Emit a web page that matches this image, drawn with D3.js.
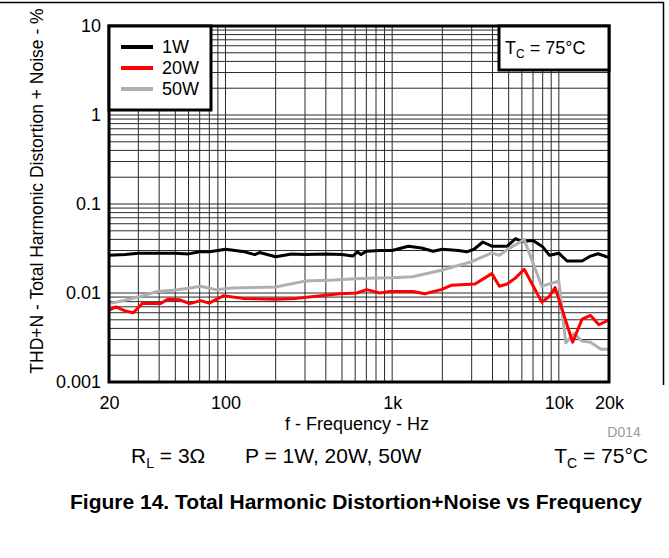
<!DOCTYPE html>
<html>
<head>
<meta charset="utf-8">
<script src="https://cdn.jsdelivr.net/npm/d3@7"></script>
<style>
  body { margin: 0; background: #fff; }
  svg { display: block; font-family: "Liberation Sans", Arial, sans-serif; }
</style>
</head>
<body>
<div id="chart"></div>
<script>
// ---- data ----
const freq1W = [20, 25, 30, 40, 50, 60, 70, 80, 90, 100, 130, 150, 160, 200, 250, 300, 400, 500, 580, 620, 650, 700, 850, 1000,
	1250, 1500, 1760, 2000, 2500, 2800, 3100, 3500, 3960, 4500, 4900, 5500, 5970, 7000, 8000, 8800, 10000, 11200, 13800, 15500, 17200, 20000];
const thd1W = [0.0265, 0.027, 0.028, 0.028, 0.028, 0.0275, 0.029, 0.029, 0.030, 0.031, 0.029, 0.027, 0.0285, 0.0255, 0.0275, 0.027, 0.0275, 0.027, 0.026, 0.029, 0.027, 0.0295, 0.030, 0.030,
	0.0335, 0.032, 0.0295, 0.031, 0.030, 0.029, 0.031, 0.0374, 0.0336, 0.0336, 0.0336, 0.0408, 0.038, 0.0388, 0.033, 0.0265, 0.028, 0.0229, 0.0229, 0.026, 0.0276, 0.025];

const freq20W = [20, 22, 25, 28, 31.6, 36, 40.7, 45, 53, 61, 71, 79.6, 97, 127, 198, 267, 350, 485, 613, 703, 842, 970,
	1330, 1570, 1970, 2260, 3140, 3960, 4400, 4900, 5500, 6200, 7900, 8700, 9500, 12100, 13800, 15500, 17400, 20000];
const thd20W = [0.0064, 0.0070, 0.0063, 0.0060, 0.0076, 0.0076, 0.0076, 0.0085, 0.0084, 0.0076, 0.0082, 0.0077, 0.0093, 0.0087, 0.0085, 0.0087, 0.0092, 0.0098, 0.0100, 0.0109, 0.0100, 0.0104,
	0.0104, 0.0098, 0.0109, 0.0122, 0.0126, 0.0165, 0.0119, 0.0126, 0.0148, 0.0185, 0.0079, 0.0090, 0.0115, 0.0028, 0.0051, 0.0056, 0.0044, 0.0050];

const freq50W = [20, 25, 30, 39, 50, 60, 71, 88, 110, 150, 200, 300, 450, 600, 800, 1000, 1330, 1970, 2960, 3960, 4400, 5000, 6200,
	7900, 10000, 11000, 12300, 13800, 15500, 17900, 20000];
const thd50W = [0.0076, 0.0083, 0.009, 0.0104, 0.0108, 0.0113, 0.0119, 0.0109, 0.0114, 0.0115, 0.0117, 0.0136, 0.014, 0.0145, 0.0147, 0.0148, 0.0152, 0.018, 0.0223, 0.0282, 0.0265, 0.0315, 0.0398,
	0.0119, 0.0136, 0.00275, 0.0035, 0.00288, 0.0028, 0.00233, 0.00233];

const seriesNames = ["1W", "20W", "50W"];
const seriesColors = ["#000000", "#ff0000", "#b0b0b0"];

const xTickValues = [20, 100, 1000, 10000, 20000];
const xTickLabels = ["20", "100", "1k", "10k", "20k"];
const yTickValues = [0.001, 0.01, 0.1, 1, 10];
const yTickLabels = ["0.001", "0.01", "0.1", "1", "10"];

// ---- layout ----
const W = 669, H = 558;
const margin = {top: 26, right: 60, bottom: 176, left: 109};
const width = W - margin.left - margin.right;
const height = H - margin.top - margin.bottom;

const svg = d3.select("#chart").append("svg")
	.attr("width", W)
	.attr("height", H);

// outer frame (top and right edge of the datasheet box)
svg.append("path")
	.attr("d", "M0,2.5 H663.5 V" + 385)
	.attr("fill", "none")
	.attr("stroke", "#000")
	.attr("stroke-width", 1.5);

const g = svg.append("g")
	.attr("transform", "translate(" + margin.left + "," + margin.top + ")");

const x = d3.scaleLog().domain([20, 20000]).range([0, width]);
const y = d3.scaleLog().domain([0.001, 10]).range([height, 0]);

// grid lines
let xGrid = [];
[10, 100, 1000, 10000].forEach(function(dec) {
	for (let k = 1; k <= 9; k++) {
		let v = dec * k;
		if (v > 20 && v < 20000) xGrid.push(v);
	}
});
let yGrid = [];
[0.001, 0.01, 0.1, 1].forEach(function(dec) {
	for (let k = 1; k <= 9; k++) {
		let v = dec * k;
		if (v > 0.001) yGrid.push(v);
	}
});

g.selectAll(".xgrid")
	.data(xGrid)
	.enter().append("line")
	.attr("class", "xgrid")
	.attr("x1", d => x(d)).attr("x2", d => x(d))
	.attr("y1", 0).attr("y2", height)
	.attr("stroke", "#2a2a2a")
	.attr("stroke-width", 1);

g.selectAll(".ygrid")
	.data(yGrid)
	.enter().append("line")
	.attr("class", "ygrid")
	.attr("x1", 0).attr("x2", width)
	.attr("y1", d => y(d)).attr("y2", d => y(d))
	.attr("stroke", "#2a2a2a")
	.attr("stroke-width", 1);

// curves
const line = d3.line()
	.x(d => x(d[0]))
	.y(d => y(d[1]));

const seriesData = [
	d3.zip(freq1W, thd1W),
	d3.zip(freq20W, thd20W),
	d3.zip(freq50W, thd50W)
];

// draw 1W first, then 50W, then 20W on top
[0, 2, 1].forEach(function(i) {
	g.append("path")
		.datum(seriesData[i])
		.attr("fill", "none")
		.attr("stroke", seriesColors[i])
		.attr("stroke-width", 3)
		.attr("stroke-linejoin", "round")
		.attr("d", line);
});

// plot border
g.append("rect")
	.attr("width", width)
	.attr("height", height)
	.attr("fill", "none")
	.attr("stroke", "#000")
	.attr("stroke-width", 3);

// legend box
const legend = g.append("g");
legend.append("rect")
	.attr("x", 0).attr("y", 0)
	.attr("width", 102).attr("height", 84)
	.attr("fill", "#fff")
	.attr("stroke", "#000")
	.attr("stroke-width", 3);

seriesNames.forEach(function(name, i) {
	let ly = 21 + i * 21;
	legend.append("line")
		.attr("x1", 12).attr("x2", 44)
		.attr("y1", ly).attr("y2", ly)
		.attr("stroke", seriesColors[i])
		.attr("stroke-width", 4);
	legend.append("text")
		.attr("x", 53).attr("y", ly)
		.attr("dy", "0.35em")
		.attr("font-size", 18)
		.text(name);
});

// Tc box
const tc = g.append("g");
tc.append("rect")
	.attr("x", 390).attr("y", 0)
	.attr("width", width - 390).attr("height", 44)
	.attr("fill", "#fff")
	.attr("stroke", "#000")
	.attr("stroke-width", 3);
let tcText = tc.append("text")
	.attr("x", 396).attr("y", 22)
	.attr("dy", "0.35em")
	.attr("font-size", 18);
tcText.append("tspan").text("T");
tcText.append("tspan").attr("font-size", 12).attr("dy", 4).text("C");
tcText.append("tspan").attr("dy", -4).text(" = 75°C");

// axes
const xAxis = d3.axisBottom(x)
	.tickValues(xTickValues)
	.tickSize(0)
	.tickPadding(14)
	.tickFormat((d, i) => xTickLabels[i]);
g.append("g")
	.attr("class", "x-axis axis")
	.attr("transform", "translate(0," + height + ")")
	.call(xAxis)
	.call(s => s.select(".domain").remove())
	.selectAll("text")
	.attr("font-size", 18)
	.attr("font-family", "Liberation Sans, Arial, sans-serif")
	.attr("fill", "#000");

const yAxis = d3.axisLeft(y)
	.tickValues(yTickValues)
	.tickSize(0)
	.tickPadding(8)
	.tickFormat((d, i) => yTickLabels[i]);
g.append("g")
	.attr("class", "y-axis axis")
	.call(yAxis)
	.call(s => s.select(".domain").remove())
	.selectAll("text")
	.attr("font-size", 18)
	.attr("font-family", "Liberation Sans, Arial, sans-serif")
	.attr("fill", "#000");

// axis titles
svg.append("text")
	.attr("transform", "translate(43," + (margin.top + height / 2 - 13) + ") rotate(-90)")
	.attr("text-anchor", "middle")
	.attr("font-size", 17.5)
	.text("THD+N - Total Harmonic Distortion + Noise - %");

svg.append("text")
	.attr("x", 357).attr("y", 430)
	.attr("text-anchor", "middle")
	.attr("font-size", 18)
	.text("f - Frequency - Hz");

svg.append("text")
	.attr("x", 624).attr("y", 437)
	.attr("text-anchor", "middle")
	.attr("font-size", 14)
	.attr("fill", "#999")
	.text("D014");

// conditions line
let rl = svg.append("text")
	.attr("x", 131).attr("y", 463)
	.attr("font-size", 21);
rl.append("tspan").text("R");
rl.append("tspan").attr("font-size", 14).attr("dy", 5).text("L");
rl.append("tspan").attr("dy", -5).text(" = 3Ω");

svg.append("text")
	.attr("x", 245).attr("y", 463)
	.attr("font-size", 21)
	.text("P = 1W, 20W, 50W");

let tc2 = svg.append("text")
	.attr("x", 648).attr("y", 463)
	.attr("text-anchor", "end")
	.attr("font-size", 21);
tc2.append("tspan").text("T");
tc2.append("tspan").attr("font-size", 14).attr("dy", 5).text("C");
tc2.append("tspan").attr("dy", -5).text(" = 75°C");

// caption
svg.append("text")
	.attr("x", 356).attr("y", 509)
	.attr("text-anchor", "middle")
	.attr("font-size", 21)
	.attr("font-weight", "bold")
	.text("Figure 14. Total Harmonic Distortion+Noise vs Frequency");
</script>
</body>
</html>
